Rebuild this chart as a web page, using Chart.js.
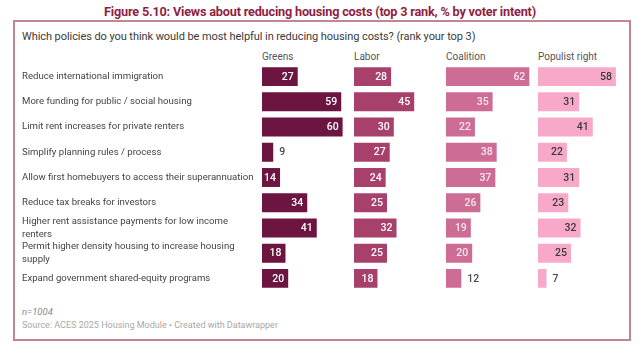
<!DOCTYPE html>
<html>
<head>
<meta charset="utf-8">
<script src="https://cdn.jsdelivr.net/npm/chart.js@4"></script>
<style>
  html, body { margin: 0; padding: 0; background: #fff; }
  body { width: 640px; height: 351px; position: relative; overflow: hidden; font-family: Roboto, sans-serif; }
  #title { position: absolute; top: 4px; left: 0; width: 640px; text-align: center; font-size: 12.7px; font-weight: 700; color: #8e1f43; letter-spacing: -0.2px; }
  #box { position: absolute; left: 13px; top: 20px; width: 614px; height: 317px; border: 2px solid #c48593; }
  #question { position: absolute; left: 22px; top: 30px; font-size: 11px; color: #3a3a3a; letter-spacing: -0.07px; }
  .head { position: absolute; top: 51px; font-size: 10px; color: #555; }
  .wrap { position: absolute; top: 64px; height: 227px; }
  #n { position: absolute; left: 22px; top: 306px; font-size: 9.5px; font-style: italic; color: #8a8a8a; }
  #source { position: absolute; left: 22px; top: 320px; font-size: 9px; color: #a8a8a8; }
</style>
</head>
<body>
<div id="title">Figure 5.10: Views about reducing housing costs (top 3 rank, % by voter intent)</div>
<div id="box"></div>
<div id="question">Which policies do you think would be most helpful in reducing housing costs? (rank your top 3)</div>
<div id="n">n=1004</div>
<div id="source">Source: ACES 2025 Housing Module • Created with Datawrapper</div>

<script>
// 資料
const categories = [
    'Reduce international immigration',
    'More funding for public / social housing',
    'Limit rent increases for private renters',
    'Simplify planning rules / process',
    'Allow first homebuyers to access their superannuation',
    'Reduce tax breaks for investors',
    ['Higher rent assistance payments for low income', 'renters'],
    ['Permit higher density housing to increase housing', 'supply'],
    'Expand government shared-equity programs'
];
const groups = ['Greens', 'Labor', 'Coalition', 'Populist right'];
const greens = [27, 59, 60, 9, 14, 34, 41, 18, 20];
const labor = [28, 45, 30, 27, 24, 25, 32, 25, 18];
const coalition = [62, 35, 22, 38, 37, 26, 19, 20, 12];
const populist = [58, 31, 41, 22, 31, 23, 32, 25, 7];

const seriesList = [greens, labor, coalition, populist];
const barColors = ['#6d1541', '#a8406c', '#cd6c95', '#f8a9ca'];
const insideText = ['#ffffff', '#ffffff', '#fbe6ee', '#3a3a3a'];

// 數值標籤 (柱內或柱外)
const valueLabels = {
    id: 'valueLabels',
    afterDatasetsDraw(chart, args, opts) {
        const ctx = chart.ctx;
        const meta = chart.getDatasetMeta(0);
        const data = chart.data.datasets[0].data;
        ctx.save();
        ctx.font = '500 10.5px Roboto';
        ctx.textBaseline = 'middle';
        meta.data.forEach((bar, i) => {
            const txt = String(data[i]);
            const w = ctx.measureText(txt).width;
            if (bar.x - bar.base > w + 7) {
                ctx.fillStyle = opts.inside;
                ctx.textAlign = 'right';
                ctx.fillText(txt, bar.x - 5, bar.y + 0.5);
            } else {
                ctx.fillStyle = '#4a4a4a';
                ctx.textAlign = 'left';
                ctx.fillText(txt, bar.x + 5, bar.y + 0.5);
            }
        });
        ctx.restore();
    }
};

const colStart = 262;
const colStep = 92;
const colWidth = 88;
const labelLeft = 22;

seriesList.forEach((values, k) => {
    const first = k === 0;
    const left = first ? labelLeft : colStart + colStep * k;
    const width = first ? colStart + colWidth - labelLeft : colWidth;

    const head = document.createElement('div');
    head.className = 'head';
    head.style.left = (colStart + colStep * k) + 'px';
    head.textContent = groups[k];
    document.body.appendChild(head);

    const wrap = document.createElement('div');
    wrap.className = 'wrap';
    wrap.style.left = left + 'px';
    wrap.style.width = width + 'px';
    const canvas = document.createElement('canvas');
    wrap.appendChild(canvas);
    document.body.appendChild(wrap);

    new Chart(canvas, {
        type: 'bar',
        data: {
            labels: categories,
            datasets: [{
                data: values,
                backgroundColor: barColors[k],
                borderColor: 'rgba(255,255,255,0.35)',
                borderWidth: 1,
                barPercentage: 0.83,
                categoryPercentage: 1
            }]
        },
        options: {
            indexAxis: 'y',
            responsive: true,
            maintainAspectRatio: false,
            animation: false,
            layout: { padding: 0 },
            plugins: {
                legend: { display: false },
                tooltip: { enabled: false },
                valueLabels: { inside: insideText[k] }
            },
            scales: {
                x: { display: false, min: 0, max: 64.7 },
                y: {
                    display: first,
                    grid: { display: false },
                    border: { display: false },
                    ticks: {
                        autoSkip: false,
                        crossAlign: 'far',
                        padding: 0,
                        color: '#444',
                        font: { family: 'Roboto', size: 9.6, lineHeight: 1.35 }
                    },
                    afterFit: s => {
                        s.width = first ? colStart - labelLeft : 0;
                        s.paddingTop = 0;
                        s.paddingBottom = 0;
                    }
                }
            }
        },
        plugins: [valueLabels]
    });
});
</script>
</body>
</html>
